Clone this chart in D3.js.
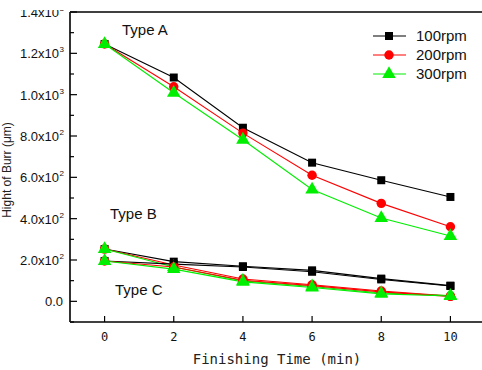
<!DOCTYPE html>
<html>
<head>
<meta charset="utf-8">
<script src="https://cdn.jsdelivr.net/npm/d3@7"></script>
<style>
html,body{margin:0;padding:0;background:#fff;}
svg{display:block;}
</style>
</head>
<body>
<svg id="chart" width="482" height="370"></svg>
<script>
// ---- data ----
const times = [0, 2, 4, 6, 8, 10];
const xTicks = [0, 2, 4, 6, 8, 10];
const yTickValues = [0, 200, 400, 600, 800, 1000, 1200, 1400];
const yTickMantissa = ["0.0", "2.0x10", "4.0x10", "6.0x10", "8.0x10", "1.0x10", "1.2x10", "1.4x10"];
const yTickExponent = ["", "2", "2", "2", "2", "3", "3", "3"];
const rpmLabels = ["100rpm", "200rpm", "300rpm"];
const typeLabels = ["Type A", "Type B", "Type C"];

const typeA_100 = [1245, 1083, 840, 671, 586, 505];
const typeA_200 = [1245, 1038, 814, 610, 474, 361];
const typeA_300 = [1245, 1009, 782, 541, 403, 316];

const typeB_100 = [253, 192, 170, 150, 110, 76];
const typeB_200 = [253, 176, 108, 80, 50, 25];
const typeB_300 = [253, 166, 99, 72, 40, 28];

const typeC_100 = [195, 180, 166, 143, 106, 74];
const typeC_200 = [195, 166, 102, 76, 46, 24];
const typeC_300 = [195, 156, 94, 67, 36, 26];

// ---- setup ----
const colors = ["#000000", "#ff0000", "#00ee00"];
const shapes = [d3.symbolSquare, d3.symbolCircle, d3.symbolTriangle];
const sizes = [64, 70, 80];

const groups = [
  [typeA_100, typeA_200, typeA_300],
  [typeB_100, typeB_200, typeB_300],
  [typeC_100, typeC_200, typeC_300]
];

const svg = d3.select("#chart");
const x = d3.scaleLinear().domain([-1, 11]).range([70, 485]);
const y = d3.scaleLinear().domain([-100, 1400]).range([322, 12]);

const sans = "Liberation Sans, Arial, sans-serif";
const mono = "DejaVu Sans Mono, monospace";

// frame
svg.append("line").attr("x1", x(-1)).attr("x2", 482).attr("y1", y(1400)).attr("y2", y(1400))
  .attr("stroke", "#000").attr("stroke-width", 1.5);
svg.append("line").attr("x1", x(-1)).attr("x2", 482).attr("y1", y(-100)).attr("y2", y(-100))
  .attr("stroke", "#000").attr("stroke-width", 1.5);
svg.append("line").attr("x1", x(-1)).attr("x2", x(-1)).attr("y1", y(1400)).attr("y2", y(-100))
  .attr("stroke", "#333").attr("stroke-width", 2);

// y ticks (inward)
const yMinor = d3.range(-100, 1401, 100).filter(v => v % 200 !== 0);
svg.selectAll(".ymaj").data(yTickValues).enter().append("line")
  .attr("x1", x(-1)).attr("x2", x(-1) + 7).attr("y1", d => y(d)).attr("y2", d => y(d))
  .attr("stroke", "#000").attr("stroke-width", 1.2);
svg.selectAll(".ymin").data(yMinor).enter().append("line")
  .attr("x1", x(-1)).attr("x2", x(-1) + 4).attr("y1", d => y(d)).attr("y2", d => y(d))
  .attr("stroke", "#000").attr("stroke-width", 1.2);

// y tick labels
yTickValues.forEach((v, i) => {
  const t = svg.append("text")
    .attr("x", yTickExponent[i] ? 59 : 63)
    .attr("y", y(v) + 5)
    .attr("text-anchor", "end")
    .attr("font-family", sans).attr("font-size", 13).attr("fill", "#111");
  t.append("tspan").text(yTickMantissa[i]);
  if (yTickExponent[i]) {
    svg.append("text").attr("x", 59.5).attr("y", y(v) - 1)
      .attr("font-family", sans).attr("font-size", 8).attr("fill", "#111")
      .text(yTickExponent[i]);
  }
});

// x ticks (inward)
svg.selectAll(".xmaj").data(xTicks).enter().append("line")
  .attr("x1", d => x(d)).attr("x2", d => x(d)).attr("y1", y(-100)).attr("y2", y(-100) - 6)
  .attr("stroke", "#000").attr("stroke-width", 1.2);
svg.selectAll(".xlab").data(xTicks).enter().append("text")
  .attr("x", d => x(d)).attr("y", 341).attr("text-anchor", "middle")
  .attr("font-family", mono).attr("font-size", 12).attr("fill", "#111")
  .text(d => d);

// axis titles
svg.append("text").attr("x", 277).attr("y", 364).attr("text-anchor", "middle")
  .attr("font-family", mono).attr("font-size", 14).attr("fill", "#222")
  .text("Finishing Time (min)");
svg.append("text").attr("transform", "translate(11,170) rotate(-90)").attr("text-anchor", "middle")
  .attr("font-family", sans).attr("font-size", 12).attr("fill", "#222")
  .text("Hight of Burr (\u03bcm)");

// series
const line = d3.line().x((d, i) => x(times[i])).y(d => y(d));
groups.forEach(g => {
  g.forEach((vals, k) => {
    svg.append("path").attr("d", line(vals)).attr("fill", "none")
      .attr("stroke", colors[k]).attr("stroke-width", 1.1);
  });
});
groups.forEach(g => {
  g.forEach((vals, k) => {
    svg.selectAll(null).data(vals).enter().append("path")
      .attr("transform", (d, i) => `translate(${x(times[i])},${y(d)})`)
      .attr("d", d3.symbol().type(shapes[k]).size(sizes[k]))
      .attr("fill", colors[k]);
  });
});

// type labels
const typePos = [[122, 35], [110, 219], [115, 295]];
typeLabels.forEach((t, i) => {
  svg.append("text").attr("x", typePos[i][0]).attr("y", typePos[i][1])
    .attr("font-family", sans).attr("font-size", 15).attr("fill", "#111").text(t);
});

// legend
rpmLabels.forEach((t, k) => {
  const cy = 36 + k * 19;
  svg.append("line").attr("x1", 373).attr("x2", 406).attr("y1", cy).attr("y2", cy)
    .attr("stroke", colors[k]).attr("stroke-width", 1.1);
  svg.append("path").attr("transform", `translate(389,${cy})`)
    .attr("d", d3.symbol().type(shapes[k]).size(sizes[k])).attr("fill", colors[k]);
  svg.append("text").attr("x", 416).attr("y", cy + 5)
    .attr("font-family", sans).attr("font-size", 15).attr("fill", "#111").text(t);
});

// crop edge at top-left as in the reference
svg.append("rect").attr("x", 0).attr("y", 0).attr("width", 69).attr("height", 10).attr("fill", "#fff");
</script>
</body>
</html>
